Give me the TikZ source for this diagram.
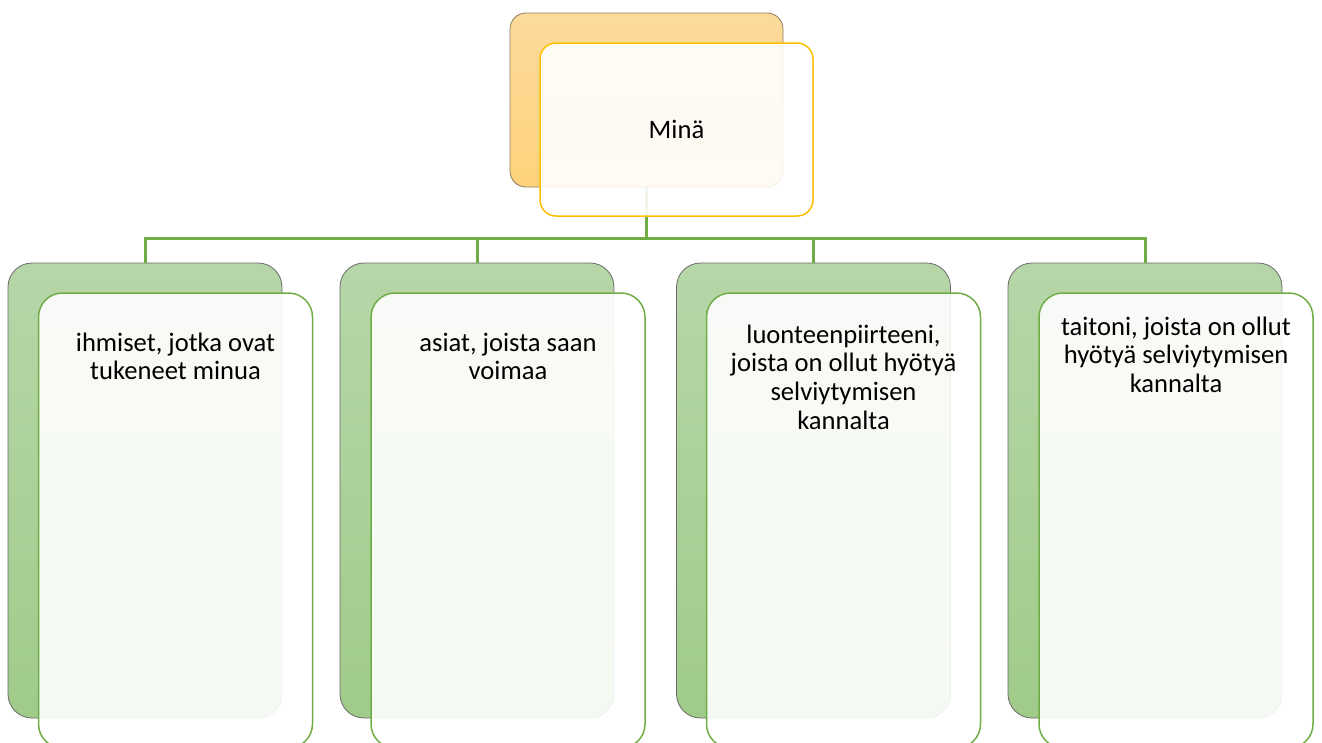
\documentclass[tikz,border=0pt]{standalone}
\usepackage{fontspec}
\setmainfont{Carlito}
\definecolor{linegreen}{HTML}{70AD47}
\definecolor{gtop}{HTML}{B6D6A8}
\definecolor{gbot}{HTML}{A0CB89}
\definecolor{gedge}{HTML}{6A6A6A}
\definecolor{otop}{HTML}{FCDA9C}
\definecolor{obot}{HTML}{FFD37C}
\definecolor{oedge}{HTML}{8C7B5C}
\definecolor{oframe}{HTML}{FFC000}
\begin{document}
\begin{tikzpicture}[x=1pt,y=-1pt,
  conn/.style={draw=linegreen,line width=3pt,line join=miter},
  backbox/.style={rectangle,inner sep=0pt,minimum width=274pt,minimum height=455pt,
    rounded corners=24pt,top color=gtop,bottom color=gbot,draw=gedge,line width=0.8pt},
  frontbox/.style={rectangle,inner sep=0pt,minimum width=274pt,minimum height=455pt,
    rounded corners=24pt,fill=white,fill opacity=0.9,draw=linegreen,line width=1.5pt},
  topback/.style={rectangle,inner sep=0pt,minimum width=273pt,minimum height=174pt,
    rounded corners=16pt,top color=otop,bottom color=obot,draw=oedge,line width=0.8pt},
  topfront/.style={rectangle,inner sep=0pt,minimum width=273pt,minimum height=173pt,
    rounded corners=16pt,fill=white,fill opacity=0.9,draw=oframe,line width=1.5pt},
  lbl/.style={inner sep=0pt,align=center,text=black,
    font=\fontsize{26.6pt}{28.8pt}\selectfont}]
\useasboundingbox (0,0) rectangle (1322,742);

% back layers
\node[topback] (mback) at (646.5,100) {};
\node[backbox] (b1back) at (145,490.5) {};
\node[backbox] (b2back) at (477,490.5) {};
\node[backbox] (b3back) at (813.5,490.5) {};
\node[backbox] (b4back) at (1145,490.5) {};

% connectors
\coordinate (hub) at (646.5,238);
\draw[conn] (mback.south) -- (hub);
\draw[conn] (b1back.north) -- (b1back.north |- hub) -- (b4back.north |- hub) -- (b4back.north);
\draw[conn] (b2back.north) -- (b2back.north |- hub);
\draw[conn] (b3back.north) -- (b3back.north |- hub);

% front layers
\node[topfront] (mfront) at (676.5,129.5) {};
\node[frontbox] (b1front) at (175.5,520.5) {};
\node[frontbox] (b2front) at (508,520.5) {};
\node[frontbox] (b3front) at (843.5,520.5) {};
\node[frontbox] (b4front) at (1176,520.5) {};

% texts
\node[lbl] (mtxt) at (676.5,129.5) {Minä};
\node[lbl,anchor=north] (t1) at (175.5,332.5) {ihmiset, jotka ovat\\tukeneet minua};
\node[lbl,anchor=north] (t2) at (508,332.5) {asiat, joista saan\\voimaa};
\node[lbl,anchor=north] (t3) at (843.5,324.5) {luonteenpiirteeni,\\joista on ollut hyötyä\\selviytymisen\\kannalta};
\node[lbl,anchor=north] (t4) at (1176,316.5) {taitoni, joista on ollut\\hyötyä selviytymisen\\kannalta};
\end{tikzpicture}
\end{document}
